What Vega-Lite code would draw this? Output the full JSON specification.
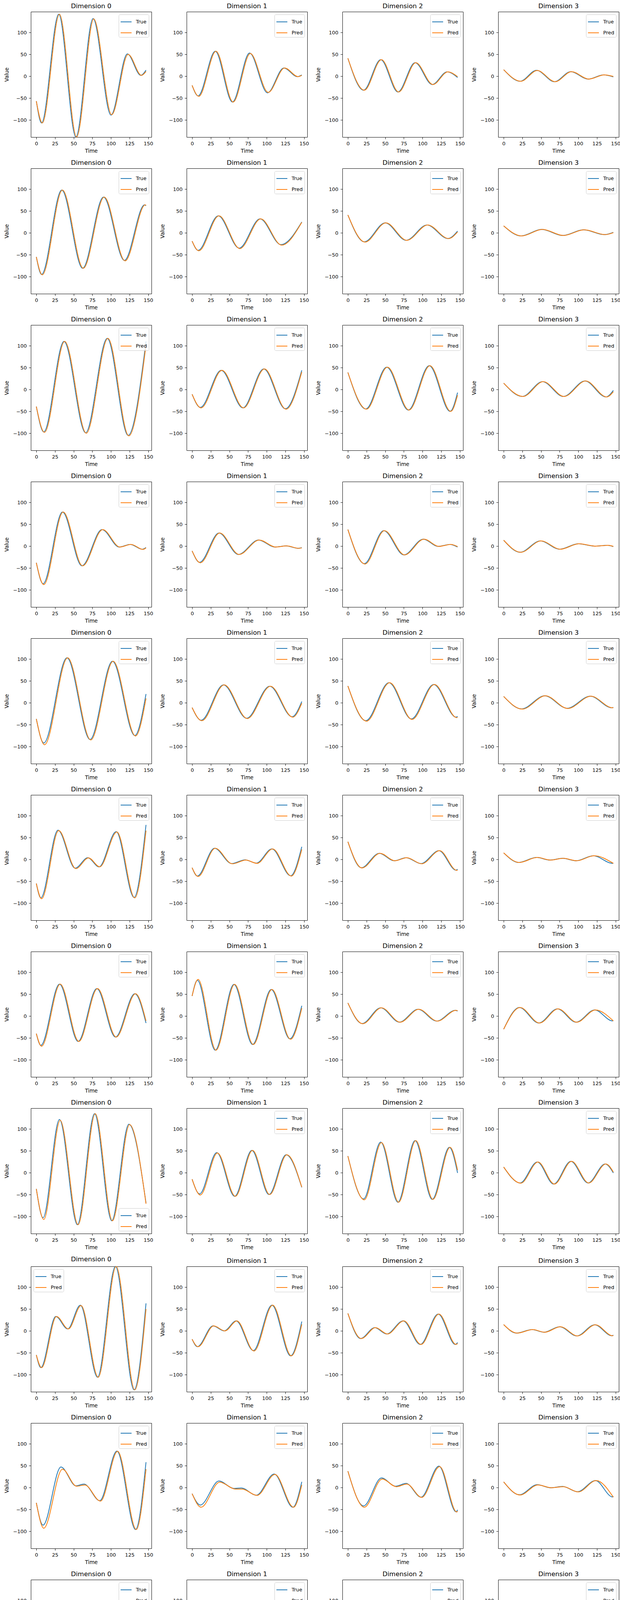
{
  "$schema": "https://vega.github.io/schema/vega-lite/v6.json",
  "background": "white",
  "padding": {"left": 9, "top": 7, "right": 0, "bottom": 0},
  "data": {"values": [
    {"p":0,"t":0,"True":-57,"Pred":-57},{"p":0,"t":7,"True":-107},{"p":0,"t":30,"True":142},{"p":0,"t":53,"True":-139},{"p":0,"t":76,"True":132},{"p":0,"t":100,"True":-89},{"p":0,"t":122,"True":51},{"p":0,"t":140,"True":2},{"p":0,"t":8,"Pred":-107},{"p":0,"t":31,"Pred":142},{"p":0,"t":54,"Pred":-139},{"p":0,"t":77,"Pred":131},{"p":0,"t":101,"Pred":-88},{"p":0,"t":123,"Pred":50},{"p":0,"t":141,"Pred":2},{"p":0,"t":147,"True":14,"Pred":11},
    {"p":1,"t":0,"True":-21,"Pred":-21},{"p":1,"t":8,"True":-45},{"p":1,"t":31,"True":57},{"p":1,"t":54,"True":-59},{"p":1,"t":77,"True":53},{"p":1,"t":101,"True":-38},{"p":1,"t":123,"True":19},{"p":1,"t":141,"True":-1},{"p":1,"t":9,"Pred":-46},{"p":1,"t":32,"Pred":57},{"p":1,"t":55,"Pred":-59},{"p":1,"t":78,"Pred":52},{"p":1,"t":102,"Pred":-37},{"p":1,"t":124,"Pred":19},{"p":1,"t":142,"Pred":-1},{"p":1,"t":147,"True":3,"Pred":2},
    {"p":2,"t":0,"True":41,"Pred":41},{"p":2,"t":21,"True":-32},{"p":2,"t":44,"True":38},{"p":2,"t":67,"True":-36},{"p":2,"t":90,"True":31},{"p":2,"t":113,"True":-19},{"p":2,"t":133,"True":10},{"p":2,"t":22,"Pred":-32},{"p":2,"t":45,"Pred":38},{"p":2,"t":68,"Pred":-36},{"p":2,"t":91,"Pred":31},{"p":2,"t":114,"Pred":-19},{"p":2,"t":134,"Pred":10},{"p":2,"t":147,"True":-3,"Pred":-1},
    {"p":3,"t":0,"True":15,"Pred":15},{"p":3,"t":22,"True":-11.5},{"p":3,"t":44,"True":13.5},{"p":3,"t":68,"True":-12.5},{"p":3,"t":90,"True":10.5},{"p":3,"t":113,"True":-6.5},{"p":3,"t":134,"True":3},{"p":3,"t":23,"Pred":-11.5},{"p":3,"t":45,"Pred":13},{"p":3,"t":69,"Pred":-12.5},{"p":3,"t":91,"Pred":10.5},{"p":3,"t":114,"Pred":-6.5},{"p":3,"t":135,"Pred":3},{"p":3,"t":147,"True":-1.5,"Pred":-0.5},
    {"p":4,"t":0,"True":-55,"Pred":-55},{"p":4,"t":7,"True":-95},{"p":4,"t":34,"True":98},{"p":4,"t":62,"True":-81},{"p":4,"t":90,"True":82},{"p":4,"t":118,"True":-63},{"p":4,"t":145,"True":64},{"p":4,"t":8,"Pred":-96},{"p":4,"t":35,"Pred":98},{"p":4,"t":63,"Pred":-81},{"p":4,"t":91,"Pred":82},{"p":4,"t":119,"Pred":-64},{"p":4,"t":146,"Pred":64},{"p":4,"t":147,"True":62,"Pred":63},
    {"p":5,"t":0,"True":-19,"Pred":-19},{"p":5,"t":8,"True":-40},{"p":5,"t":35,"True":39},{"p":5,"t":63,"True":-35},{"p":5,"t":91,"True":32},{"p":5,"t":119,"True":-27},{"p":5,"t":9,"Pred":-41},{"p":5,"t":36,"Pred":39},{"p":5,"t":64,"Pred":-36},{"p":5,"t":92,"Pred":32},{"p":5,"t":120,"Pred":-28},{"p":5,"t":147,"True":25,"Pred":24},
    {"p":6,"t":0,"True":41,"Pred":41},{"p":6,"t":22,"True":-20.5},{"p":6,"t":50,"True":23},{"p":6,"t":78,"True":-17},{"p":6,"t":106,"True":18},{"p":6,"t":134,"True":-13},{"p":6,"t":23,"Pred":-21},{"p":6,"t":51,"Pred":23},{"p":6,"t":79,"Pred":-17},{"p":6,"t":107,"Pred":18},{"p":6,"t":135,"Pred":-13},{"p":6,"t":147,"True":4,"Pred":2},
    {"p":7,"t":0,"True":16,"Pred":16},{"p":7,"t":23,"True":-7},{"p":7,"t":51,"True":8},{"p":7,"t":79,"True":-6},{"p":7,"t":107,"True":7},{"p":7,"t":135,"True":-4},{"p":7,"t":24,"Pred":-7},{"p":7,"t":52,"Pred":8},{"p":7,"t":80,"Pred":-6},{"p":7,"t":108,"Pred":7},{"p":7,"t":136,"Pred":-4},{"p":7,"t":147,"True":1,"Pred":0.5},
    {"p":8,"t":0,"True":-39,"Pred":-39},{"p":8,"t":10,"True":-97},{"p":8,"t":37,"True":110},{"p":8,"t":66,"True":-99},{"p":8,"t":95,"True":117},{"p":8,"t":123,"True":-105},{"p":8,"t":11,"Pred":-98},{"p":8,"t":38,"Pred":110},{"p":8,"t":67,"Pred":-100},{"p":8,"t":96,"Pred":117},{"p":8,"t":124,"Pred":-106},{"p":8,"t":147,"True":110,"Pred":102},
    {"p":9,"t":0,"True":-11,"Pred":-11},{"p":9,"t":11,"True":-41},{"p":9,"t":39,"True":44},{"p":9,"t":68,"True":-42},{"p":9,"t":96,"True":47},{"p":9,"t":125,"True":-44},{"p":9,"t":12,"Pred":-42},{"p":9,"t":40,"Pred":44},{"p":9,"t":69,"Pred":-42},{"p":9,"t":97,"Pred":47},{"p":9,"t":126,"Pred":-45},{"p":9,"t":147,"True":44,"Pred":40},
    {"p":10,"t":0,"True":39,"Pred":39},{"p":10,"t":24,"True":-44.5},{"p":10,"t":52,"True":51},{"p":10,"t":81,"True":-47},{"p":10,"t":109,"True":54.5},{"p":10,"t":137,"True":-50},{"p":10,"t":25,"Pred":-45},{"p":10,"t":53,"Pred":51},{"p":10,"t":82,"Pred":-47},{"p":10,"t":110,"Pred":54.5},{"p":10,"t":138,"Pred":-50},{"p":10,"t":147,"True":-7,"Pred":-13},
    {"p":11,"t":0,"True":14.5,"Pred":14.5},{"p":11,"t":25,"True":-16},{"p":11,"t":52,"True":18},{"p":11,"t":80,"True":-16},{"p":11,"t":109,"True":19.5},{"p":11,"t":137,"True":-17},{"p":11,"t":26,"Pred":-16},{"p":11,"t":53,"Pred":18},{"p":11,"t":81,"Pred":-16},{"p":11,"t":110,"Pred":19.5},{"p":11,"t":138,"Pred":-17},{"p":11,"t":147,"True":-2,"Pred":-5},
    {"p":12,"t":0,"True":-38,"Pred":-38},{"p":12,"t":9,"True":-86},{"p":12,"t":35,"True":78},{"p":12,"t":61,"True":-45},{"p":12,"t":88,"True":38},{"p":12,"t":111,"True":-2},{"p":12,"t":126,"True":4},{"p":12,"t":142,"True":-7},{"p":12,"t":10,"Pred":-88},{"p":12,"t":36,"Pred":78},{"p":12,"t":62,"Pred":-45},{"p":12,"t":89,"Pred":38},{"p":12,"t":112,"Pred":-2},{"p":12,"t":127,"Pred":4},{"p":12,"t":143,"Pred":-7.5},{"p":12,"t":147,"True":-3,"Pred":-4},
    {"p":13,"t":0,"True":-11,"Pred":-11},{"p":13,"t":10,"True":-37},{"p":13,"t":36,"True":30},{"p":13,"t":62,"True":-19},{"p":13,"t":89,"True":14},{"p":13,"t":111,"True":-2},{"p":13,"t":126,"True":0.5},{"p":13,"t":142,"True":-5},{"p":13,"t":11,"Pred":-38},{"p":13,"t":37,"Pred":30},{"p":13,"t":63,"Pred":-19},{"p":13,"t":90,"Pred":14},{"p":13,"t":112,"Pred":-2},{"p":13,"t":127,"Pred":0.5},{"p":13,"t":143,"Pred":-5},{"p":13,"t":147,"True":-3.5,"Pred":-4},
    {"p":14,"t":0,"True":38,"Pred":38},{"p":14,"t":22,"True":-40},{"p":14,"t":48,"True":35.5},{"p":14,"t":75,"True":-20},{"p":14,"t":101,"True":16},{"p":14,"t":121,"True":-0.5},{"p":14,"t":137,"True":4},{"p":14,"t":23,"Pred":-41},{"p":14,"t":49,"Pred":35.5},{"p":14,"t":76,"Pred":-20},{"p":14,"t":102,"Pred":16},{"p":14,"t":122,"Pred":-0.5},{"p":14,"t":138,"Pred":4},{"p":14,"t":147,"True":-2,"Pred":-1},
    {"p":15,"t":0,"True":13.5,"Pred":13.5},{"p":15,"t":22,"True":-14},{"p":15,"t":49,"True":12},{"p":15,"t":75,"True":-7},{"p":15,"t":100,"True":5.5},{"p":15,"t":122,"True":0},{"p":15,"t":139,"True":2},{"p":15,"t":23,"Pred":-14},{"p":15,"t":50,"Pred":12},{"p":15,"t":76,"Pred":-7},{"p":15,"t":101,"Pred":5.5},{"p":15,"t":123,"Pred":0},{"p":15,"t":140,"Pred":2},{"p":15,"t":147,"True":-1,"Pred":-0.5},
    {"p":16,"t":0,"True":-37,"Pred":-37},{"p":16,"t":10,"True":-92},{"p":16,"t":41,"True":103},{"p":16,"t":72,"True":-84},{"p":16,"t":102,"True":95},{"p":16,"t":132,"True":-75},{"p":16,"t":11,"Pred":-96},{"p":16,"t":42,"Pred":103},{"p":16,"t":73,"Pred":-85},{"p":16,"t":103,"Pred":95},{"p":16,"t":133,"Pred":-76},{"p":16,"t":147,"True":20,"Pred":10},
    {"p":17,"t":0,"True":-11,"Pred":-11},{"p":17,"t":12,"True":-40},{"p":17,"t":42,"True":41},{"p":17,"t":73,"True":-35.5},{"p":17,"t":104,"True":38},{"p":17,"t":134,"True":-32},{"p":17,"t":13,"Pred":-41},{"p":17,"t":43,"Pred":41},{"p":17,"t":74,"Pred":-36},{"p":17,"t":105,"Pred":38},{"p":17,"t":135,"Pred":-33},{"p":17,"t":147,"True":3,"Pred":-1},
    {"p":18,"t":0,"True":38.5,"Pred":38.5},{"p":18,"t":24,"True":-41},{"p":18,"t":55,"True":46},{"p":18,"t":85,"True":-37},{"p":18,"t":115,"True":42},{"p":18,"t":145,"True":-33},{"p":18,"t":25,"Pred":-42},{"p":18,"t":56,"Pred":46},{"p":18,"t":86,"Pred":-38},{"p":18,"t":116,"Pred":42},{"p":18,"t":146,"Pred":-34},{"p":18,"t":147,"True":-31,"Pred":-33},
    {"p":19,"t":0,"True":14.5,"Pred":14.5},{"p":19,"t":24,"True":-14},{"p":19,"t":55,"True":16},{"p":19,"t":85,"True":-12.5},{"p":19,"t":116,"True":15},{"p":19,"t":145,"True":-11.5},{"p":19,"t":25,"Pred":-14.5},{"p":19,"t":56,"Pred":16},{"p":19,"t":86,"Pred":-13},{"p":19,"t":117,"Pred":15},{"p":19,"t":146,"Pred":-11.5},{"p":19,"t":147,"True":-10.5,"Pred":-11},
    {"p":20,"t":0,"True":-55,"Pred":-55},{"p":20,"t":6,"True":-88},{"p":20,"t":29,"True":67},{"p":20,"t":52,"True":-20},{"p":20,"t":69,"True":4},{"p":20,"t":84,"True":-17},{"p":20,"t":107,"True":63.5},{"p":20,"t":131,"True":-87},{"p":20,"t":7,"Pred":-90},{"p":20,"t":30,"Pred":66},{"p":20,"t":53,"Pred":-21},{"p":20,"t":70,"Pred":3.5},{"p":20,"t":85,"Pred":-17},{"p":20,"t":108,"Pred":63},{"p":20,"t":132,"Pred":-88},{"p":20,"t":147,"True":79,"Pred":66},
    {"p":21,"t":0,"True":-19,"Pred":-19},{"p":21,"t":7,"True":-38},{"p":21,"t":30,"True":25.5},{"p":21,"t":53,"True":-9.5},{"p":21,"t":71,"True":-1},{"p":21,"t":86,"True":-8.5},{"p":21,"t":107,"True":24},{"p":21,"t":132,"True":-37.5},{"p":21,"t":8,"Pred":-39},{"p":21,"t":31,"Pred":25.5},{"p":21,"t":54,"Pred":-10},{"p":21,"t":72,"Pred":-1.5},{"p":21,"t":87,"Pred":-9},{"p":21,"t":108,"Pred":24},{"p":21,"t":133,"Pred":-38},{"p":21,"t":147,"True":29,"Pred":23},
    {"p":22,"t":0,"True":40.5,"Pred":40.5},{"p":22,"t":18,"True":-19},{"p":22,"t":42,"True":14},{"p":22,"t":62,"True":-3},{"p":22,"t":78,"True":4},{"p":22,"t":98,"True":-9.5},{"p":22,"t":122,"True":20},{"p":22,"t":145,"True":-24.5},{"p":22,"t":19,"Pred":-19.5},{"p":22,"t":43,"Pred":14},{"p":22,"t":63,"Pred":-3},{"p":22,"t":79,"Pred":4},{"p":22,"t":99,"Pred":-10},{"p":22,"t":123,"Pred":20},{"p":22,"t":146,"Pred":-25},{"p":22,"t":147,"True":-22.5,"Pred":-25},
    {"p":23,"t":0,"True":15,"Pred":15},{"p":23,"t":20,"True":-7},{"p":23,"t":44,"True":4.5},{"p":23,"t":62,"True":-1.5},{"p":23,"t":79,"True":2.5},{"p":23,"t":97,"True":-3},{"p":23,"t":120,"True":8.5},{"p":23,"t":146,"True":-9},{"p":23,"t":21,"Pred":-7},{"p":23,"t":45,"Pred":4.5},{"p":23,"t":63,"Pred":-1.5},{"p":23,"t":80,"Pred":2.5},{"p":23,"t":98,"Pred":-3},{"p":23,"t":121,"Pred":8.5},{"p":23,"t":147,"True":-8.5,"Pred":-9},
    {"p":24,"t":0,"True":-40,"Pred":-40},{"p":24,"t":6,"True":-67},{"p":24,"t":31,"True":73},{"p":24,"t":56,"True":-58},{"p":24,"t":81,"True":63},{"p":24,"t":106,"True":-48},{"p":24,"t":132,"True":51},{"p":24,"t":7,"Pred":-69},{"p":24,"t":32,"Pred":73},{"p":24,"t":57,"Pred":-58},{"p":24,"t":82,"Pred":63},{"p":24,"t":107,"Pred":-48},{"p":24,"t":133,"Pred":51},{"p":24,"t":147,"True":-16,"Pred":-11},
    {"p":25,"t":0,"True":46,"Pred":46},{"p":25,"t":7,"True":82},{"p":25,"t":31,"True":-78},{"p":25,"t":56,"True":72.5},{"p":25,"t":81,"True":-65},{"p":25,"t":106,"True":61},{"p":25,"t":131,"True":-52},{"p":25,"t":8,"Pred":84},{"p":25,"t":32,"Pred":-78},{"p":25,"t":57,"Pred":72.5},{"p":25,"t":82,"Pred":-65},{"p":25,"t":107,"Pred":61},{"p":25,"t":132,"Pred":-53},{"p":25,"t":147,"True":23.5,"Pred":18},
    {"p":26,"t":0,"True":30,"Pred":30},{"p":26,"t":19,"True":-17},{"p":26,"t":44,"True":19},{"p":26,"t":69,"True":-14},{"p":26,"t":94,"True":15.5},{"p":26,"t":119,"True":-11.5},{"p":26,"t":144,"True":13},{"p":26,"t":20,"Pred":-17.5},{"p":26,"t":45,"Pred":19},{"p":26,"t":70,"Pred":-14},{"p":26,"t":95,"Pred":15.5},{"p":26,"t":120,"Pred":-11.5},{"p":26,"t":145,"Pred":13},{"p":26,"t":147,"True":11.5,"Pred":12.5},
    {"p":27,"t":0,"True":-30,"Pred":-30},{"p":27,"t":21,"True":19.5},{"p":27,"t":47,"True":-16},{"p":27,"t":72,"True":16.5},{"p":27,"t":97,"True":-14},{"p":27,"t":122,"True":14},{"p":27,"t":146,"True":-11},{"p":27,"t":22,"Pred":19.5},{"p":27,"t":48,"Pred":-16},{"p":27,"t":73,"Pred":16.5},{"p":27,"t":98,"Pred":-14},{"p":27,"t":123,"Pred":14},{"p":27,"t":147,"True":-10.5,"Pred":-11},
    {"p":28,"t":0,"True":-37,"Pred":-37},{"p":28,"t":9,"True":-103},{"p":28,"t":31,"True":122},{"p":28,"t":55,"True":-119},{"p":28,"t":78,"True":135},{"p":28,"t":101,"True":-110},{"p":28,"t":124,"True":111},{"p":28,"t":10,"Pred":-107},{"p":28,"t":32,"Pred":120},{"p":28,"t":56,"Pred":-119},{"p":28,"t":79,"Pred":135},{"p":28,"t":102,"Pred":-110},{"p":28,"t":125,"Pred":110},{"p":28,"t":147,"True":-69,"Pred":-71},
    {"p":29,"t":0,"True":-15,"Pred":-15},{"p":29,"t":10,"True":-48.5},{"p":29,"t":33,"True":46},{"p":29,"t":57,"True":-54},{"p":29,"t":80,"True":51},{"p":29,"t":103,"True":-50},{"p":29,"t":126,"True":41},{"p":29,"t":11,"Pred":-51},{"p":29,"t":34,"Pred":45},{"p":29,"t":58,"Pred":-54},{"p":29,"t":81,"Pred":51},{"p":29,"t":104,"Pred":-50},{"p":29,"t":127,"Pred":41},{"p":29,"t":147,"True":-33.5,"Pred":-33},
    {"p":30,"t":0,"True":38,"Pred":38},{"p":30,"t":21,"True":-60},{"p":30,"t":44,"True":70},{"p":30,"t":67,"True":-67.5},{"p":30,"t":90,"True":73.5},{"p":30,"t":113,"True":-61},{"p":30,"t":136,"True":58},{"p":30,"t":22,"Pred":-62},{"p":30,"t":45,"Pred":69},{"p":30,"t":68,"Pred":-67.5},{"p":30,"t":91,"Pred":73.5},{"p":30,"t":114,"Pred":-61},{"p":30,"t":137,"Pred":58},{"p":30,"t":147,"True":-0.5,"Pred":6},
    {"p":31,"t":0,"True":13,"Pred":13},{"p":31,"t":22,"True":-23.5},{"p":31,"t":45,"True":24.5},{"p":31,"t":67,"True":-26},{"p":31,"t":90,"True":26},{"p":31,"t":113,"True":-23.5},{"p":31,"t":136,"True":20},{"p":31,"t":23,"Pred":-24},{"p":31,"t":46,"Pred":24.5},{"p":31,"t":68,"Pred":-26},{"p":31,"t":91,"Pred":26},{"p":31,"t":114,"Pred":-23.5},{"p":31,"t":137,"Pred":20},{"p":31,"t":147,"True":-0.5,"Pred":1.5},
    {"p":32,"t":0,"True":-55,"Pred":-55},{"p":32,"t":6,"True":-84},{"p":32,"t":26,"True":33},{"p":32,"t":42,"True":4.5},{"p":32,"t":59,"True":59},{"p":32,"t":82,"True":-106},{"p":32,"t":106,"True":147.6},{"p":32,"t":131,"True":-135},{"p":32,"t":7,"Pred":-84},{"p":32,"t":27,"Pred":33},{"p":32,"t":43,"Pred":4.5},{"p":32,"t":60,"Pred":58},{"p":32,"t":83,"Pred":-106},{"p":32,"t":107,"Pred":147.6},{"p":32,"t":132,"Pred":-135},{"p":32,"t":147,"True":63,"Pred":50},
    {"p":33,"t":0,"True":-19,"Pred":-19},{"p":33,"t":7,"True":-36},{"p":33,"t":28,"True":11.5},{"p":33,"t":43,"True":0},{"p":33,"t":59,"True":23},{"p":33,"t":82,"True":-45},{"p":33,"t":107,"True":59},{"p":33,"t":132,"True":-57},{"p":33,"t":8,"Pred":-36},{"p":33,"t":29,"Pred":11.5},{"p":33,"t":44,"Pred":0},{"p":33,"t":60,"Pred":23},{"p":33,"t":83,"Pred":-46},{"p":33,"t":108,"Pred":59},{"p":33,"t":133,"Pred":-57},{"p":33,"t":147,"True":21.5,"Pred":15},
    {"p":34,"t":0,"True":40,"Pred":40},{"p":34,"t":17,"True":-17.5},{"p":34,"t":36,"True":7.5},{"p":34,"t":52,"True":-7},{"p":34,"t":74,"True":23},{"p":34,"t":97,"True":-31},{"p":34,"t":121,"True":38.5},{"p":34,"t":144,"True":-31},{"p":34,"t":18,"Pred":-17.5},{"p":34,"t":37,"Pred":7.5},{"p":34,"t":53,"Pred":-7},{"p":34,"t":75,"Pred":23},{"p":34,"t":98,"Pred":-31},{"p":34,"t":122,"Pred":38.5},{"p":34,"t":145,"Pred":-31},{"p":34,"t":147,"True":-26.5,"Pred":-29},
    {"p":35,"t":0,"True":14.5,"Pred":14.5},{"p":35,"t":17,"True":-5},{"p":35,"t":38,"True":3},{"p":35,"t":54,"True":-3},{"p":35,"t":75,"True":9.5},{"p":35,"t":98,"True":-11.5},{"p":35,"t":122,"True":14},{"p":35,"t":145,"True":-11},{"p":35,"t":18,"Pred":-5},{"p":35,"t":39,"Pred":3},{"p":35,"t":55,"Pred":-3},{"p":35,"t":76,"Pred":9.5},{"p":35,"t":99,"Pred":-11.5},{"p":35,"t":123,"Pred":14},{"p":35,"t":146,"Pred":-11},{"p":35,"t":147,"True":-9.5,"Pred":-10.5},
    {"p":36,"t":0,"True":-35,"Pred":-35},{"p":36,"t":9,"True":-86},{"p":36,"t":33,"True":47},{"p":36,"t":53,"True":4},{"p":36,"t":64,"True":8},{"p":36,"t":85,"True":-30},{"p":36,"t":108,"True":83.5},{"p":36,"t":133,"True":-96},{"p":36,"t":10,"Pred":-93},{"p":36,"t":35,"Pred":42},{"p":36,"t":54,"Pred":3},{"p":36,"t":65,"Pred":6},{"p":36,"t":86,"Pred":-31},{"p":36,"t":109,"Pred":83},{"p":36,"t":134,"Pred":-96},{"p":36,"t":147,"True":58,"Pred":42},
    {"p":37,"t":0,"True":-14,"Pred":-14},{"p":37,"t":11,"True":-40},{"p":37,"t":36,"True":15},{"p":37,"t":56,"True":-2},{"p":37,"t":66,"True":-1},{"p":37,"t":86,"True":-17.5},{"p":37,"t":110,"True":31},{"p":37,"t":135,"True":-45},{"p":37,"t":12,"Pred":-45},{"p":37,"t":37,"Pred":12.5},{"p":37,"t":58,"Pred":-3.5},{"p":37,"t":67,"Pred":-3.5},{"p":37,"t":87,"Pred":-18},{"p":37,"t":111,"Pred":30},{"p":37,"t":136,"Pred":-45},{"p":37,"t":147,"True":13,"Pred":6},
    {"p":38,"t":0,"True":37.5,"Pred":37.5},{"p":38,"t":21,"True":-42},{"p":38,"t":45,"True":22},{"p":38,"t":64,"True":3},{"p":38,"t":78,"True":9.5},{"p":38,"t":98,"True":-22},{"p":38,"t":122,"True":49},{"p":38,"t":145,"True":-55.5},{"p":38,"t":22,"Pred":-45},{"p":38,"t":46,"Pred":19.5},{"p":38,"t":65,"Pred":2},{"p":38,"t":79,"Pred":8},{"p":38,"t":99,"Pred":-22.5},{"p":38,"t":123,"Pred":48},{"p":38,"t":146,"Pred":-56},{"p":38,"t":147,"True":-51,"Pred":-54},
    {"p":39,"t":0,"True":13,"Pred":13},{"p":39,"t":21,"True":-16.5},{"p":39,"t":45,"True":6.5},{"p":39,"t":63,"True":-0.5},{"p":39,"t":79,"True":2.5},{"p":39,"t":99,"True":-9.5},{"p":39,"t":123,"True":16},{"p":39,"t":146,"True":-21.5},{"p":39,"t":22,"Pred":-17},{"p":39,"t":46,"Pred":6},{"p":39,"t":64,"Pred":-0.5},{"p":39,"t":80,"Pred":2},{"p":39,"t":100,"Pred":-10},{"p":39,"t":124,"Pred":16},{"p":39,"t":147,"True":-20,"Pred":-22},
    {"p":40,"t":0,"True":-40,"Pred":-40},{"p":40,"t":8,"True":-70},{"p":40,"t":37,"True":77},{"p":40,"t":67,"True":-64},{"p":40,"t":98,"True":71},{"p":40,"t":128,"True":-58},{"p":40,"t":9,"Pred":-71},{"p":40,"t":38,"Pred":77},{"p":40,"t":68,"Pred":-65},{"p":40,"t":99,"Pred":71},{"p":40,"t":129,"Pred":-59},{"p":40,"t":147,"True":34,"Pred":29},
    {"p":41,"t":0,"True":46,"Pred":46},{"p":41,"t":8,"True":86},{"p":41,"t":38,"True":-82},{"p":41,"t":68,"True":79.5},{"p":41,"t":98,"True":-75},{"p":41,"t":128,"True":72.5},{"p":41,"t":9,"Pred":87},{"p":41,"t":39,"Pred":-83},{"p":41,"t":69,"Pred":79.5},{"p":41,"t":99,"Pred":-75},{"p":41,"t":129,"Pred":72},{"p":41,"t":147,"True":-32,"Pred":-25},
    {"p":42,"t":0,"True":29.5,"Pred":29.5},{"p":42,"t":22,"True":-14.5},{"p":42,"t":51,"True":17.5},{"p":42,"t":81,"True":-14},{"p":42,"t":111,"True":16},{"p":42,"t":141,"True":-12.5},{"p":42,"t":23,"Pred":-15},{"p":42,"t":52,"Pred":17.5},{"p":42,"t":82,"Pred":-14},{"p":42,"t":112,"Pred":16},{"p":42,"t":142,"Pred":-12.5},{"p":42,"t":147,"True":-9.5,"Pred":-10.5},
    {"p":43,"t":0,"True":-30,"Pred":-30},{"p":43,"t":25,"True":17.5},{"p":43,"t":55,"True":-14.5},{"p":43,"t":85,"True":16},{"p":43,"t":115,"True":-12.5},{"p":43,"t":145,"True":14},{"p":43,"t":26,"Pred":17.5},{"p":43,"t":56,"Pred":-14.5},{"p":43,"t":86,"Pred":16},{"p":43,"t":116,"Pred":-12.5},{"p":43,"t":146,"Pred":14},{"p":43,"t":147,"True":13.5,"Pred":14},
    {"p":44,"t":0,"True":-56,"Pred":-56},{"p":44,"t":7,"True":-101},{"p":44,"t":31,"True":122.5},{"p":44,"t":56,"True":-124},{"p":44,"t":81,"True":140},{"p":44,"t":106,"True":-137},{"p":44,"t":131,"True":147.6},{"p":44,"t":8,"Pred":-101},{"p":44,"t":32,"Pred":122},{"p":44,"t":57,"Pred":-124},{"p":44,"t":82,"Pred":139},{"p":44,"t":107,"Pred":-137},{"p":44,"t":132,"Pred":147.6},{"p":44,"t":147,"True":-68,"Pred":-52},
    {"p":45,"t":0,"True":-20,"Pred":-20},{"p":45,"t":8,"True":-43},{"p":45,"t":32,"True":49},{"p":45,"t":57,"True":-52},{"p":45,"t":82,"True":55.5},{"p":45,"t":107,"True":-58},{"p":45,"t":132,"True":59.5},{"p":45,"t":9,"Pred":-43},{"p":45,"t":33,"Pred":49},{"p":45,"t":58,"Pred":-52},{"p":45,"t":83,"Pred":55.5},{"p":45,"t":108,"Pred":-58},{"p":45,"t":133,"Pred":59.5},{"p":45,"t":147,"True":-25,"Pred":-18},
    {"p":46,"t":0,"True":41,"Pred":41},{"p":46,"t":21,"True":-26.5},{"p":46,"t":46,"True":32},{"p":46,"t":71,"True":-32},{"p":46,"t":96,"True":36},{"p":46,"t":121,"True":-35},{"p":46,"t":146,"True":37.5},{"p":46,"t":22,"Pred":-27},{"p":46,"t":47,"Pred":32},{"p":46,"t":72,"Pred":-32},{"p":46,"t":97,"Pred":36},{"p":46,"t":122,"Pred":-35},{"p":46,"t":147,"True":35,"Pred":37},
    {"p":47,"t":0,"True":15.5,"Pred":15.5},{"p":47,"t":23,"True":-9.5},{"p":47,"t":48,"True":11.5},{"p":47,"t":74,"True":-11.5},{"p":47,"t":99,"True":13.5},{"p":47,"t":124,"True":-12.5},{"p":47,"t":24,"Pred":-9.5},{"p":47,"t":49,"Pred":11.5},{"p":47,"t":75,"Pred":-11.5},{"p":47,"t":100,"Pred":13.5},{"p":47,"t":125,"Pred":-12.5},{"p":47,"t":147,"True":14,"Pred":13},
    {"p":48,"t":0,"True":-54.5,"Pred":-54.5},{"p":48,"t":7,"True":-99},{"p":48,"t":35,"True":115},{"p":48,"t":63,"True":-108},{"p":48,"t":92,"True":121},{"p":48,"t":121,"True":-114},{"p":48,"t":146,"True":127},{"p":48,"t":8,"Pred":-99},{"p":48,"t":36,"Pred":115},{"p":48,"t":64,"Pred":-108},{"p":48,"t":93,"Pred":121},{"p":48,"t":122,"Pred":-114},{"p":48,"t":147,"True":126,"Pred":126},
    {"p":49,"t":0,"True":-19,"Pred":-19},{"p":49,"t":9,"True":-42},{"p":49,"t":36,"True":46},{"p":49,"t":64,"True":-46},{"p":49,"t":92,"True":49.5},{"p":49,"t":121,"True":-49},{"p":49,"t":10,"Pred":-42},{"p":49,"t":37,"Pred":46},{"p":49,"t":65,"Pred":-46},{"p":49,"t":93,"Pred":49.5},{"p":49,"t":122,"Pred":-49},{"p":49,"t":147,"True":51,"Pred":50},
    {"p":50,"t":0,"True":41.5,"Pred":41.5},{"p":50,"t":22,"True":-23.5},{"p":50,"t":50,"True":27},{"p":50,"t":78,"True":-25},{"p":50,"t":107,"True":29},{"p":50,"t":135,"True":-26},{"p":50,"t":23,"Pred":-23.5},{"p":50,"t":51,"Pred":27},{"p":50,"t":79,"Pred":-25},{"p":50,"t":108,"Pred":29},{"p":50,"t":136,"Pred":-26},{"p":50,"t":147,"True":0,"Pred":-4},
    {"p":51,"t":0,"True":16,"Pred":16},{"p":51,"t":24,"True":-8.5},{"p":51,"t":52,"True":10},{"p":51,"t":80,"True":-8.5},{"p":51,"t":108,"True":11},{"p":51,"t":137,"True":-9},{"p":51,"t":25,"Pred":-8.5},{"p":51,"t":53,"Pred":10},{"p":51,"t":81,"Pred":-8.5},{"p":51,"t":109,"Pred":11},{"p":51,"t":138,"Pred":-9},{"p":51,"t":147,"True":-1.5,"Pred":-3},
    {"p":52,"t":0,"True":-31,"Pred":-31},{"p":52,"t":9,"True":-74},{"p":52,"t":37,"True":80.5},{"p":52,"t":65,"True":-60},{"p":52,"t":93,"True":68},{"p":52,"t":122,"True":-46},{"p":52,"t":10,"Pred":-77},{"p":52,"t":38,"Pred":80.5},{"p":52,"t":66,"Pred":-60},{"p":52,"t":94,"Pred":68},{"p":52,"t":123,"Pred":-47},{"p":52,"t":147,"True":53,"Pred":51},
    {"p":53,"t":0,"True":45,"Pred":45},{"p":53,"t":10,"True":107},{"p":53,"t":38,"True":-92},{"p":53,"t":66,"True":88.5},{"p":53,"t":94,"True":-76},{"p":53,"t":122,"True":71},{"p":53,"t":11,"Pred":110},{"p":53,"t":39,"Pred":-92},{"p":53,"t":67,"Pred":88.5},{"p":53,"t":95,"Pred":-77},{"p":53,"t":123,"Pred":71},{"p":53,"t":147,"True":-57,"Pred":-54},
    {"p":54,"t":0,"True":30,"Pred":30},{"p":54,"t":22,"True":-35},{"p":54,"t":50,"True":37},{"p":54,"t":78,"True":-28},{"p":54,"t":106,"True":31.5},{"p":54,"t":134,"True":-22},{"p":54,"t":23,"Pred":-36},{"p":54,"t":51,"Pred":37},{"p":54,"t":79,"Pred":-28.5},{"p":54,"t":107,"Pred":31.5},{"p":54,"t":135,"Pred":-22.5},{"p":54,"t":147,"True":7,"Pred":3},
    {"p":55,"t":0,"True":-33,"Pred":-33},{"p":55,"t":24,"True":43},{"p":55,"t":51,"True":-37},{"p":55,"t":79,"True":36.5},{"p":55,"t":107,"True":-30},{"p":55,"t":135,"True":28.5},{"p":55,"t":25,"Pred":44},{"p":55,"t":52,"Pred":-37.5},{"p":55,"t":80,"Pred":36.5},{"p":55,"t":108,"Pred":-30.5},{"p":55,"t":136,"Pred":28.5},{"p":55,"t":147,"True":2,"Pred":5},
    {"p":56,"t":0,"True":-38.5,"Pred":-38.5},{"p":56,"t":8,"True":-80},{"p":56,"t":31,"True":53},{"p":56,"t":53,"True":-2},{"p":56,"t":65,"True":6},{"p":56,"t":83,"True":-27},{"p":56,"t":107,"True":78.5},{"p":56,"t":132,"True":-93.5},{"p":56,"t":9,"Pred":-83},{"p":56,"t":32,"Pred":52},{"p":56,"t":54,"Pred":-2},{"p":56,"t":66,"Pred":5.5},{"p":56,"t":84,"Pred":-27.5},{"p":56,"t":108,"Pred":78},{"p":56,"t":133,"Pred":-94},{"p":56,"t":147,"True":73,"Pred":58},
    {"p":57,"t":0,"True":-12,"Pred":-12},{"p":57,"t":9,"True":-33},{"p":57,"t":34,"True":20},{"p":57,"t":57,"True":-0.5},{"p":57,"t":66,"True":1},{"p":57,"t":84,"True":-12.5},{"p":57,"t":108,"True":30},{"p":57,"t":133,"True":-39.5},{"p":57,"t":10,"Pred":-35},{"p":57,"t":35,"Pred":19.5},{"p":57,"t":58,"Pred":-1},{"p":57,"t":67,"Pred":0.5},{"p":57,"t":85,"Pred":-13},{"p":57,"t":109,"Pred":30},{"p":57,"t":134,"Pred":-39.5},{"p":57,"t":147,"True":22.5,"Pred":16},
    {"p":58,"t":0,"True":38.5,"Pred":38.5},{"p":58,"t":20,"True":-35},{"p":58,"t":44,"True":22.5},{"p":58,"t":63,"True":1},{"p":58,"t":77,"True":8},{"p":58,"t":98,"True":-19},{"p":58,"t":121,"True":42},{"p":58,"t":145,"True":-50},{"p":58,"t":21,"Pred":-37},{"p":58,"t":45,"Pred":22},{"p":58,"t":64,"Pred":0.5},{"p":58,"t":78,"Pred":7.5},{"p":58,"t":99,"Pred":-19.5},{"p":58,"t":122,"Pred":42},{"p":58,"t":146,"Pred":-50},{"p":58,"t":147,"True":-44,"Pred":-48},
    {"p":59,"t":0,"True":14,"Pred":14},{"p":59,"t":21,"True":-13},{"p":59,"t":45,"True":8.5},{"p":59,"t":62,"True":-0.5},{"p":59,"t":78,"True":2.5},{"p":59,"t":99,"True":-6.5},{"p":59,"t":122,"True":14.5},{"p":59,"t":145,"True":-17.5},{"p":59,"t":22,"Pred":-13},{"p":59,"t":46,"Pred":8.5},{"p":59,"t":63,"Pred":-0.5},{"p":59,"t":79,"Pred":2.5},{"p":59,"t":100,"Pred":-6.5},{"p":59,"t":123,"Pred":14.5},{"p":59,"t":146,"Pred":-17.5},{"p":59,"t":147,"True":-15,"Pred":-16.5},
    {"p":60,"t":0,"True":-24,"Pred":-24},{"p":60,"t":11,"True":-78},{"p":60,"t":41,"True":102},{"p":60,"t":70,"True":-93.5},{"p":60,"t":100,"True":115},{"p":60,"t":129,"True":-94.5},{"p":60,"t":12,"Pred":-82},{"p":60,"t":42,"Pred":101},{"p":60,"t":71,"Pred":-94},{"p":60,"t":101,"Pred":114},{"p":60,"t":130,"Pred":-95},{"p":60,"t":147,"True":60,"Pred":50},
    {"p":61,"t":0,"True":32.5,"Pred":32.5},{"p":61,"t":13,"True":100},{"p":61,"t":43,"True":-107},{"p":61,"t":72,"True":117},{"p":61,"t":101,"True":-121},{"p":61,"t":130,"True":118},{"p":61,"t":14,"Pred":104},{"p":61,"t":44,"Pred":-107},{"p":61,"t":73,"Pred":117},{"p":61,"t":102,"Pred":-121},{"p":61,"t":131,"Pred":118},{"p":61,"t":147,"True":-51,"Pred":-40},
    {"p":62,"t":0,"True":29,"Pred":29},{"p":62,"t":24,"True":-44},{"p":62,"t":55,"True":54.5},{"p":62,"t":84,"True":-51.5},{"p":62,"t":113,"True":61},{"p":62,"t":142,"True":-51.5},{"p":62,"t":25,"Pred":-46},{"p":62,"t":56,"Pred":54},{"p":62,"t":85,"Pred":-51.5},{"p":62,"t":114,"Pred":60.5},{"p":62,"t":143,"Pred":-51.5},{"p":62,"t":147,"True":-36,"Pred":-40},
    {"p":63,"t":0,"True":-26,"Pred":-26},{"p":63,"t":27,"True":48.5},{"p":63,"t":56,"True":-51},{"p":63,"t":85,"True":56.5},{"p":63,"t":114,"True":-57},{"p":63,"t":143,"True":55.5},{"p":63,"t":28,"Pred":49},{"p":63,"t":57,"Pred":-51},{"p":63,"t":86,"Pred":56},{"p":63,"t":115,"Pred":-57},{"p":63,"t":144,"Pred":55},{"p":63,"t":147,"True":44,"Pred":48},
    {"p":64,"t":0,"True":-25,"Pred":-25},{"p":64,"t":9,"True":-61},{"p":64,"t":32,"True":51.5},{"p":64,"t":56,"True":-24},{"p":64,"t":79,"True":24},{"p":64,"t":97,"True":8.5},{"p":64,"t":109,"True":11},{"p":64,"t":128,"True":-10},{"p":64,"t":10,"Pred":-65},{"p":64,"t":33,"Pred":51},{"p":64,"t":57,"Pred":-24.5},{"p":64,"t":80,"Pred":24},{"p":64,"t":98,"Pred":8.5},{"p":64,"t":110,"Pred":11},{"p":64,"t":129,"Pred":-10.5},{"p":64,"t":147,"True":39,"Pred":37},
    {"p":65,"t":0,"True":32.5,"Pred":32.5},{"p":65,"t":9,"True":78.5},{"p":65,"t":33,"True":-49},{"p":65,"t":58,"True":36.5},{"p":65,"t":80,"True":-18},{"p":65,"t":98,"True":-1},{"p":65,"t":111,"True":-3.5},{"p":65,"t":129,"True":19.5},{"p":65,"t":10,"Pred":82},{"p":65,"t":34,"Pred":-49},{"p":65,"t":59,"Pred":36.5},{"p":65,"t":81,"Pred":-18},{"p":65,"t":99,"Pred":-1.5},{"p":65,"t":112,"Pred":-3.5},{"p":65,"t":130,"Pred":19.5},{"p":65,"t":147,"True":-34,"Pred":-31},
    {"p":66,"t":0,"True":28,"Pred":28},{"p":66,"t":20,"True":-34},{"p":66,"t":44,"True":27.5},{"p":66,"t":67,"True":-13},{"p":66,"t":91,"True":11.5},{"p":66,"t":108,"True":5},{"p":66,"t":120,"True":7},{"p":66,"t":141,"True":-8.5},{"p":66,"t":21,"Pred":-35.5},{"p":66,"t":45,"Pred":27.5},{"p":66,"t":68,"Pred":-13.5},{"p":66,"t":92,"Pred":11.5},{"p":66,"t":109,"Pred":5},{"p":66,"t":121,"Pred":7},{"p":66,"t":142,"Pred":-8.5},{"p":66,"t":147,"True":-1,"Pred":-3},
    {"p":67,"t":0,"True":-27,"Pred":-27},{"p":67,"t":21,"True":37},{"p":67,"t":45,"True":-23},{"p":67,"t":69,"True":17.5},{"p":67,"t":89,"True":-7},{"p":67,"t":105,"True":0},{"p":67,"t":122,"True":-3},{"p":67,"t":142,"True":13},{"p":67,"t":22,"Pred":39},{"p":67,"t":46,"Pred":-23.5},{"p":67,"t":70,"Pred":17.5},{"p":67,"t":90,"Pred":-7},{"p":67,"t":106,"Pred":0},{"p":67,"t":123,"Pred":-3},{"p":67,"t":143,"Pred":13},{"p":67,"t":147,"True":7,"Pred":8.5},
    {"p":68,"t":0,"True":-32,"Pred":-32},{"p":68,"t":8,"True":-65},{"p":68,"t":31,"True":41},{"p":68,"t":51,"True":5},{"p":68,"t":63,"True":11},{"p":68,"t":83,"True":-30},{"p":68,"t":106,"True":77},{"p":68,"t":131,"True":-86},{"p":68,"t":9,"Pred":-67},{"p":68,"t":32,"Pred":41},{"p":68,"t":52,"Pred":4.5},{"p":68,"t":64,"Pred":10.5},{"p":68,"t":84,"Pred":-30.5},{"p":68,"t":107,"Pred":76.5},{"p":68,"t":132,"Pred":-86},{"p":68,"t":147,"True":81,"Pred":69},
    {"p":69,"t":0,"True":46,"Pred":46},{"p":69,"t":8,"True":91},{"p":69,"t":32,"True":-42},{"p":69,"t":51,"True":3},{"p":69,"t":62,"True":-3.5},{"p":69,"t":83,"True":50},{"p":69,"t":107,"True":-87},{"p":69,"t":131,"True":121},{"p":69,"t":9,"Pred":95},{"p":69,"t":33,"Pred":-42},{"p":69,"t":52,"Pred":3},{"p":69,"t":63,"Pred":-3},{"p":69,"t":84,"Pred":50},{"p":69,"t":108,"Pred":-87},{"p":69,"t":132,"Pred":121},{"p":69,"t":147,"True":-84,"Pred":-70},
    {"p":70,"t":0,"True":29.5,"Pred":29.5},{"p":70,"t":19,"True":-29.5},{"p":70,"t":42,"True":16.5},{"p":70,"t":61,"True":2},{"p":70,"t":75,"True":8},{"p":70,"t":96,"True":-19},{"p":70,"t":119,"True":40},{"p":70,"t":143,"True":-45},{"p":70,"t":20,"Pred":-30},{"p":70,"t":43,"Pred":16.5},{"p":70,"t":62,"Pred":1.5},{"p":70,"t":76,"Pred":8},{"p":70,"t":97,"Pred":-19.5},{"p":70,"t":120,"Pred":40},{"p":70,"t":144,"Pred":-45.5},{"p":70,"t":147,"True":-31,"Pred":-35},
    {"p":71,"t":0,"True":-33,"Pred":-33},{"p":71,"t":20,"True":37},{"p":71,"t":43,"True":-14.5},{"p":71,"t":62,"True":2.5},{"p":71,"t":76,"True":-7},{"p":71,"t":97,"True":27.5},{"p":71,"t":121,"True":-41},{"p":71,"t":144,"True":56},{"p":71,"t":21,"Pred":37},{"p":71,"t":44,"Pred":-14.5},{"p":71,"t":63,"Pred":2.5},{"p":71,"t":77,"Pred":-7},{"p":71,"t":98,"Pred":27.5},{"p":71,"t":122,"Pred":-41.5},{"p":71,"t":145,"Pred":55.5},{"p":71,"t":147,"True":44.5,"Pred":48},
    {"p":72,"t":0,"True":-35,"Pred":-35},{"p":72,"t":11,"True":-100},{"p":72,"t":41,"True":91},{"p":72,"t":71,"True":-64},{"p":72,"t":101,"True":67},{"p":72,"t":130,"True":-32},{"p":72,"t":13,"Pred":-107},{"p":72,"t":42,"Pred":90},{"p":72,"t":72,"Pred":-65},{"p":72,"t":102,"Pred":66},{"p":72,"t":131,"Pred":-33},{"p":72,"t":147,"True":17,"Pred":13},
    {"p":73,"t":0,"True":-15,"Pred":-15},{"p":73,"t":12,"True":-48},{"p":73,"t":43,"True":35},{"p":73,"t":73,"True":-32},{"p":73,"t":103,"True":24},{"p":73,"t":133,"True":-18.5},{"p":73,"t":13,"Pred":-51},{"p":73,"t":44,"Pred":35},{"p":73,"t":74,"Pred":-32.5},{"p":73,"t":104,"Pred":24},{"p":73,"t":134,"Pred":-18.5},{"p":73,"t":147,"True":1,"Pred":-1},
    {"p":74,"t":0,"True":37.5,"Pred":37.5},{"p":74,"t":24,"True":-49},{"p":74,"t":55,"True":45},{"p":74,"t":85,"True":-32},{"p":74,"t":114,"True":32},{"p":74,"t":144,"True":-17},{"p":74,"t":25,"Pred":-52},{"p":74,"t":56,"Pred":45},{"p":74,"t":86,"Pred":-32.5},{"p":74,"t":115,"Pred":32},{"p":74,"t":145,"Pred":-17},{"p":74,"t":147,"True":-13,"Pred":-14.5},
    {"p":75,"t":0,"True":12.5,"Pred":12.5},{"p":75,"t":24,"True":-19.5},{"p":75,"t":55,"True":14.5},{"p":75,"t":85,"True":-12.5},{"p":75,"t":114,"True":9.5},{"p":75,"t":144,"True":-7},{"p":75,"t":25,"Pred":-20.5},{"p":75,"t":56,"Pred":14.5},{"p":75,"t":86,"Pred":-12.5},{"p":75,"t":115,"Pred":9.5},{"p":75,"t":145,"Pred":-7},{"p":75,"t":147,"True":-6,"Pred":-6.5},
    {"p":76,"t":0,"True":-39,"Pred":-39},{"p":76,"t":8,"True":-92},{"p":76,"t":33,"True":115},{"p":76,"t":58,"True":-109},{"p":76,"t":83,"True":132},{"p":76,"t":108,"True":-119},{"p":76,"t":134,"True":139},{"p":76,"t":9,"Pred":-96},{"p":76,"t":34,"Pred":114},{"p":76,"t":59,"Pred":-110},{"p":76,"t":84,"Pred":131},{"p":76,"t":109,"Pred":-120},{"p":76,"t":135,"Pred":138},{"p":76,"t":147,"True":-18,"Pred":-3},
    {"p":77,"t":0,"True":-13.5,"Pred":-13.5},{"p":77,"t":10,"True":-39},{"p":77,"t":36,"True":45},{"p":77,"t":60,"True":-45},{"p":77,"t":85,"True":50.5},{"p":77,"t":110,"True":-48.5},{"p":77,"t":136,"True":54},{"p":77,"t":11,"Pred":-40},{"p":77,"t":37,"Pred":45},{"p":77,"t":61,"Pred":-45.5},{"p":77,"t":86,"Pred":50.5},{"p":77,"t":111,"Pred":-49},{"p":77,"t":137,"Pred":54},{"p":77,"t":147,"True":0,"Pred":6},
    {"p":78,"t":0,"True":37.5,"Pred":37.5},{"p":78,"t":22,"True":-46},{"p":78,"t":46,"True":57},{"p":78,"t":72,"True":-55},{"p":78,"t":97,"True":65},{"p":78,"t":122,"True":-60},{"p":78,"t":23,"Pred":-47},{"p":78,"t":47,"Pred":57},{"p":78,"t":73,"Pred":-55},{"p":78,"t":98,"Pred":65},{"p":78,"t":123,"Pred":-60.5},{"p":78,"t":147,"True":68,"Pred":67},
    {"p":79,"t":0,"True":13,"Pred":13},{"p":79,"t":23,"True":-16.5},{"p":79,"t":48,"True":19},{"p":79,"t":73,"True":-18.5},{"p":79,"t":98,"True":22.5},{"p":79,"t":123,"True":-20.5},{"p":79,"t":24,"Pred":-16.5},{"p":79,"t":49,"Pred":19},{"p":79,"t":74,"Pred":-18.5},{"p":79,"t":99,"Pred":22.5},{"p":79,"t":124,"Pred":-20.5},{"p":79,"t":147,"True":23.5,"Pred":23.5}
  ]},
  "transform": [
    {"fold": ["True", "Pred"], "as": ["s", "v"]},
    {"filter": "isValid(datum.v)"}
  ],
  "columns": 4,
  "spacing": {"row": 14, "column": 15},
  "resolve": {"legend": {"color": "independent"}},
  "concat": [
    {"title":"Dimension 0","transform":[{"filter":"datum.p==0"}],"mark":"line","encoding":{"x":{"field":"t","type":"quantitative","title":"Time","scale":{"domain":[-7.35,154.35]},"axis":{"values":[0,25,50,75,100,125,150]}},"y":{"field":"v","type":"quantitative","title":"Value","scale":{"domain":[-139.3,147.6]}},"color":{"field":"s","type":"nominal","sort":"descending","title":null}}},
    {"title":"Dimension 1","transform":[{"filter":"datum.p==1"}],"mark":"line","encoding":{"x":{"field":"t","type":"quantitative","title":"Time","scale":{"domain":[-7.35,154.35]},"axis":{"values":[0,25,50,75,100,125,150]}},"y":{"field":"v","type":"quantitative","title":"Value","scale":{"domain":[-139.3,147.6]}},"color":{"field":"s","type":"nominal","sort":"descending","title":null}}},
    {"title":"Dimension 2","transform":[{"filter":"datum.p==2"}],"mark":"line","encoding":{"x":{"field":"t","type":"quantitative","title":"Time","scale":{"domain":[-7.35,154.35]},"axis":{"values":[0,25,50,75,100,125,150]}},"y":{"field":"v","type":"quantitative","title":"Value","scale":{"domain":[-139.3,147.6]}},"color":{"field":"s","type":"nominal","sort":"descending","title":null}}},
    {"title":"Dimension 3","transform":[{"filter":"datum.p==3"}],"mark":"line","encoding":{"x":{"field":"t","type":"quantitative","title":"Time","scale":{"domain":[-7.35,154.35]},"axis":{"values":[0,25,50,75,100,125,150]}},"y":{"field":"v","type":"quantitative","title":"Value","scale":{"domain":[-139.3,147.6]}},"color":{"field":"s","type":"nominal","sort":"descending","title":null}}},
    {"title":"Dimension 0","transform":[{"filter":"datum.p==4"}],"mark":"line","encoding":{"x":{"field":"t","type":"quantitative","title":"Time","scale":{"domain":[-7.35,154.35]},"axis":{"values":[0,25,50,75,100,125,150]}},"y":{"field":"v","type":"quantitative","title":"Value","scale":{"domain":[-139.3,147.6]}},"color":{"field":"s","type":"nominal","sort":"descending","title":null}}},
    {"title":"Dimension 1","transform":[{"filter":"datum.p==5"}],"mark":"line","encoding":{"x":{"field":"t","type":"quantitative","title":"Time","scale":{"domain":[-7.35,154.35]},"axis":{"values":[0,25,50,75,100,125,150]}},"y":{"field":"v","type":"quantitative","title":"Value","scale":{"domain":[-139.3,147.6]}},"color":{"field":"s","type":"nominal","sort":"descending","title":null}}},
    {"title":"Dimension 2","transform":[{"filter":"datum.p==6"}],"mark":"line","encoding":{"x":{"field":"t","type":"quantitative","title":"Time","scale":{"domain":[-7.35,154.35]},"axis":{"values":[0,25,50,75,100,125,150]}},"y":{"field":"v","type":"quantitative","title":"Value","scale":{"domain":[-139.3,147.6]}},"color":{"field":"s","type":"nominal","sort":"descending","title":null}}},
    {"title":"Dimension 3","transform":[{"filter":"datum.p==7"}],"mark":"line","encoding":{"x":{"field":"t","type":"quantitative","title":"Time","scale":{"domain":[-7.35,154.35]},"axis":{"values":[0,25,50,75,100,125,150]}},"y":{"field":"v","type":"quantitative","title":"Value","scale":{"domain":[-139.3,147.6]}},"color":{"field":"s","type":"nominal","sort":"descending","title":null}}},
    {"title":"Dimension 0","transform":[{"filter":"datum.p==8"}],"mark":"line","encoding":{"x":{"field":"t","type":"quantitative","title":"Time","scale":{"domain":[-7.35,154.35]},"axis":{"values":[0,25,50,75,100,125,150]}},"y":{"field":"v","type":"quantitative","title":"Value","scale":{"domain":[-139.3,147.6]}},"color":{"field":"s","type":"nominal","sort":"descending","title":null}}},
    {"title":"Dimension 1","transform":[{"filter":"datum.p==9"}],"mark":"line","encoding":{"x":{"field":"t","type":"quantitative","title":"Time","scale":{"domain":[-7.35,154.35]},"axis":{"values":[0,25,50,75,100,125,150]}},"y":{"field":"v","type":"quantitative","title":"Value","scale":{"domain":[-139.3,147.6]}},"color":{"field":"s","type":"nominal","sort":"descending","title":null}}},
    {"title":"Dimension 2","transform":[{"filter":"datum.p==10"}],"mark":"line","encoding":{"x":{"field":"t","type":"quantitative","title":"Time","scale":{"domain":[-7.35,154.35]},"axis":{"values":[0,25,50,75,100,125,150]}},"y":{"field":"v","type":"quantitative","title":"Value","scale":{"domain":[-139.3,147.6]}},"color":{"field":"s","type":"nominal","sort":"descending","title":null}}},
    {"title":"Dimension 3","transform":[{"filter":"datum.p==11"}],"mark":"line","encoding":{"x":{"field":"t","type":"quantitative","title":"Time","scale":{"domain":[-7.35,154.35]},"axis":{"values":[0,25,50,75,100,125,150]}},"y":{"field":"v","type":"quantitative","title":"Value","scale":{"domain":[-139.3,147.6]}},"color":{"field":"s","type":"nominal","sort":"descending","title":null}}},
    {"title":"Dimension 0","transform":[{"filter":"datum.p==12"}],"mark":"line","encoding":{"x":{"field":"t","type":"quantitative","title":"Time","scale":{"domain":[-7.35,154.35]},"axis":{"values":[0,25,50,75,100,125,150]}},"y":{"field":"v","type":"quantitative","title":"Value","scale":{"domain":[-139.3,147.6]}},"color":{"field":"s","type":"nominal","sort":"descending","title":null}}},
    {"title":"Dimension 1","transform":[{"filter":"datum.p==13"}],"mark":"line","encoding":{"x":{"field":"t","type":"quantitative","title":"Time","scale":{"domain":[-7.35,154.35]},"axis":{"values":[0,25,50,75,100,125,150]}},"y":{"field":"v","type":"quantitative","title":"Value","scale":{"domain":[-139.3,147.6]}},"color":{"field":"s","type":"nominal","sort":"descending","title":null}}},
    {"title":"Dimension 2","transform":[{"filter":"datum.p==14"}],"mark":"line","encoding":{"x":{"field":"t","type":"quantitative","title":"Time","scale":{"domain":[-7.35,154.35]},"axis":{"values":[0,25,50,75,100,125,150]}},"y":{"field":"v","type":"quantitative","title":"Value","scale":{"domain":[-139.3,147.6]}},"color":{"field":"s","type":"nominal","sort":"descending","title":null}}},
    {"title":"Dimension 3","transform":[{"filter":"datum.p==15"}],"mark":"line","encoding":{"x":{"field":"t","type":"quantitative","title":"Time","scale":{"domain":[-7.35,154.35]},"axis":{"values":[0,25,50,75,100,125,150]}},"y":{"field":"v","type":"quantitative","title":"Value","scale":{"domain":[-139.3,147.6]}},"color":{"field":"s","type":"nominal","sort":"descending","title":null}}},
    {"title":"Dimension 0","transform":[{"filter":"datum.p==16"}],"mark":"line","encoding":{"x":{"field":"t","type":"quantitative","title":"Time","scale":{"domain":[-7.35,154.35]},"axis":{"values":[0,25,50,75,100,125,150]}},"y":{"field":"v","type":"quantitative","title":"Value","scale":{"domain":[-139.3,147.6]}},"color":{"field":"s","type":"nominal","sort":"descending","title":null}}},
    {"title":"Dimension 1","transform":[{"filter":"datum.p==17"}],"mark":"line","encoding":{"x":{"field":"t","type":"quantitative","title":"Time","scale":{"domain":[-7.35,154.35]},"axis":{"values":[0,25,50,75,100,125,150]}},"y":{"field":"v","type":"quantitative","title":"Value","scale":{"domain":[-139.3,147.6]}},"color":{"field":"s","type":"nominal","sort":"descending","title":null}}},
    {"title":"Dimension 2","transform":[{"filter":"datum.p==18"}],"mark":"line","encoding":{"x":{"field":"t","type":"quantitative","title":"Time","scale":{"domain":[-7.35,154.35]},"axis":{"values":[0,25,50,75,100,125,150]}},"y":{"field":"v","type":"quantitative","title":"Value","scale":{"domain":[-139.3,147.6]}},"color":{"field":"s","type":"nominal","sort":"descending","title":null}}},
    {"title":"Dimension 3","transform":[{"filter":"datum.p==19"}],"mark":"line","encoding":{"x":{"field":"t","type":"quantitative","title":"Time","scale":{"domain":[-7.35,154.35]},"axis":{"values":[0,25,50,75,100,125,150]}},"y":{"field":"v","type":"quantitative","title":"Value","scale":{"domain":[-139.3,147.6]}},"color":{"field":"s","type":"nominal","sort":"descending","title":null}}},
    {"title":"Dimension 0","transform":[{"filter":"datum.p==20"}],"mark":"line","encoding":{"x":{"field":"t","type":"quantitative","title":"Time","scale":{"domain":[-7.35,154.35]},"axis":{"values":[0,25,50,75,100,125,150]}},"y":{"field":"v","type":"quantitative","title":"Value","scale":{"domain":[-139.3,147.6]}},"color":{"field":"s","type":"nominal","sort":"descending","title":null}}},
    {"title":"Dimension 1","transform":[{"filter":"datum.p==21"}],"mark":"line","encoding":{"x":{"field":"t","type":"quantitative","title":"Time","scale":{"domain":[-7.35,154.35]},"axis":{"values":[0,25,50,75,100,125,150]}},"y":{"field":"v","type":"quantitative","title":"Value","scale":{"domain":[-139.3,147.6]}},"color":{"field":"s","type":"nominal","sort":"descending","title":null}}},
    {"title":"Dimension 2","transform":[{"filter":"datum.p==22"}],"mark":"line","encoding":{"x":{"field":"t","type":"quantitative","title":"Time","scale":{"domain":[-7.35,154.35]},"axis":{"values":[0,25,50,75,100,125,150]}},"y":{"field":"v","type":"quantitative","title":"Value","scale":{"domain":[-139.3,147.6]}},"color":{"field":"s","type":"nominal","sort":"descending","title":null}}},
    {"title":"Dimension 3","transform":[{"filter":"datum.p==23"}],"mark":"line","encoding":{"x":{"field":"t","type":"quantitative","title":"Time","scale":{"domain":[-7.35,154.35]},"axis":{"values":[0,25,50,75,100,125,150]}},"y":{"field":"v","type":"quantitative","title":"Value","scale":{"domain":[-139.3,147.6]}},"color":{"field":"s","type":"nominal","sort":"descending","title":null}}},
    {"title":"Dimension 0","transform":[{"filter":"datum.p==24"}],"mark":"line","encoding":{"x":{"field":"t","type":"quantitative","title":"Time","scale":{"domain":[-7.35,154.35]},"axis":{"values":[0,25,50,75,100,125,150]}},"y":{"field":"v","type":"quantitative","title":"Value","scale":{"domain":[-139.3,147.6]}},"color":{"field":"s","type":"nominal","sort":"descending","title":null}}},
    {"title":"Dimension 1","transform":[{"filter":"datum.p==25"}],"mark":"line","encoding":{"x":{"field":"t","type":"quantitative","title":"Time","scale":{"domain":[-7.35,154.35]},"axis":{"values":[0,25,50,75,100,125,150]}},"y":{"field":"v","type":"quantitative","title":"Value","scale":{"domain":[-139.3,147.6]}},"color":{"field":"s","type":"nominal","sort":"descending","title":null}}},
    {"title":"Dimension 2","transform":[{"filter":"datum.p==26"}],"mark":"line","encoding":{"x":{"field":"t","type":"quantitative","title":"Time","scale":{"domain":[-7.35,154.35]},"axis":{"values":[0,25,50,75,100,125,150]}},"y":{"field":"v","type":"quantitative","title":"Value","scale":{"domain":[-139.3,147.6]}},"color":{"field":"s","type":"nominal","sort":"descending","title":null}}},
    {"title":"Dimension 3","transform":[{"filter":"datum.p==27"}],"mark":"line","encoding":{"x":{"field":"t","type":"quantitative","title":"Time","scale":{"domain":[-7.35,154.35]},"axis":{"values":[0,25,50,75,100,125,150]}},"y":{"field":"v","type":"quantitative","title":"Value","scale":{"domain":[-139.3,147.6]}},"color":{"field":"s","type":"nominal","sort":"descending","title":null}}},
    {"title":"Dimension 0","transform":[{"filter":"datum.p==28"}],"mark":"line","encoding":{"x":{"field":"t","type":"quantitative","title":"Time","scale":{"domain":[-7.35,154.35]},"axis":{"values":[0,25,50,75,100,125,150]}},"y":{"field":"v","type":"quantitative","title":"Value","scale":{"domain":[-139.3,147.6]}},"color":{"field":"s","type":"nominal","sort":"descending","title":null,"legend":{"orient":"bottom-right"}}}},
    {"title":"Dimension 1","transform":[{"filter":"datum.p==29"}],"mark":"line","encoding":{"x":{"field":"t","type":"quantitative","title":"Time","scale":{"domain":[-7.35,154.35]},"axis":{"values":[0,25,50,75,100,125,150]}},"y":{"field":"v","type":"quantitative","title":"Value","scale":{"domain":[-139.3,147.6]}},"color":{"field":"s","type":"nominal","sort":"descending","title":null}}},
    {"title":"Dimension 2","transform":[{"filter":"datum.p==30"}],"mark":"line","encoding":{"x":{"field":"t","type":"quantitative","title":"Time","scale":{"domain":[-7.35,154.35]},"axis":{"values":[0,25,50,75,100,125,150]}},"y":{"field":"v","type":"quantitative","title":"Value","scale":{"domain":[-139.3,147.6]}},"color":{"field":"s","type":"nominal","sort":"descending","title":null}}},
    {"title":"Dimension 3","transform":[{"filter":"datum.p==31"}],"mark":"line","encoding":{"x":{"field":"t","type":"quantitative","title":"Time","scale":{"domain":[-7.35,154.35]},"axis":{"values":[0,25,50,75,100,125,150]}},"y":{"field":"v","type":"quantitative","title":"Value","scale":{"domain":[-139.3,147.6]}},"color":{"field":"s","type":"nominal","sort":"descending","title":null}}},
    {"title":"Dimension 0","transform":[{"filter":"datum.p==32"}],"mark":"line","encoding":{"x":{"field":"t","type":"quantitative","title":"Time","scale":{"domain":[-7.35,154.35]},"axis":{"values":[0,25,50,75,100,125,150]}},"y":{"field":"v","type":"quantitative","title":"Value","scale":{"domain":[-139.3,147.6]}},"color":{"field":"s","type":"nominal","sort":"descending","title":null,"legend":{"orient":"top-left"}}}},
    {"title":"Dimension 1","transform":[{"filter":"datum.p==33"}],"mark":"line","encoding":{"x":{"field":"t","type":"quantitative","title":"Time","scale":{"domain":[-7.35,154.35]},"axis":{"values":[0,25,50,75,100,125,150]}},"y":{"field":"v","type":"quantitative","title":"Value","scale":{"domain":[-139.3,147.6]}},"color":{"field":"s","type":"nominal","sort":"descending","title":null}}},
    {"title":"Dimension 2","transform":[{"filter":"datum.p==34"}],"mark":"line","encoding":{"x":{"field":"t","type":"quantitative","title":"Time","scale":{"domain":[-7.35,154.35]},"axis":{"values":[0,25,50,75,100,125,150]}},"y":{"field":"v","type":"quantitative","title":"Value","scale":{"domain":[-139.3,147.6]}},"color":{"field":"s","type":"nominal","sort":"descending","title":null}}},
    {"title":"Dimension 3","transform":[{"filter":"datum.p==35"}],"mark":"line","encoding":{"x":{"field":"t","type":"quantitative","title":"Time","scale":{"domain":[-7.35,154.35]},"axis":{"values":[0,25,50,75,100,125,150]}},"y":{"field":"v","type":"quantitative","title":"Value","scale":{"domain":[-139.3,147.6]}},"color":{"field":"s","type":"nominal","sort":"descending","title":null}}},
    {"title":"Dimension 0","transform":[{"filter":"datum.p==36"}],"mark":"line","encoding":{"x":{"field":"t","type":"quantitative","title":"Time","scale":{"domain":[-7.35,154.35]},"axis":{"values":[0,25,50,75,100,125,150]}},"y":{"field":"v","type":"quantitative","title":"Value","scale":{"domain":[-139.3,147.6]}},"color":{"field":"s","type":"nominal","sort":"descending","title":null}}},
    {"title":"Dimension 1","transform":[{"filter":"datum.p==37"}],"mark":"line","encoding":{"x":{"field":"t","type":"quantitative","title":"Time","scale":{"domain":[-7.35,154.35]},"axis":{"values":[0,25,50,75,100,125,150]}},"y":{"field":"v","type":"quantitative","title":"Value","scale":{"domain":[-139.3,147.6]}},"color":{"field":"s","type":"nominal","sort":"descending","title":null}}},
    {"title":"Dimension 2","transform":[{"filter":"datum.p==38"}],"mark":"line","encoding":{"x":{"field":"t","type":"quantitative","title":"Time","scale":{"domain":[-7.35,154.35]},"axis":{"values":[0,25,50,75,100,125,150]}},"y":{"field":"v","type":"quantitative","title":"Value","scale":{"domain":[-139.3,147.6]}},"color":{"field":"s","type":"nominal","sort":"descending","title":null}}},
    {"title":"Dimension 3","transform":[{"filter":"datum.p==39"}],"mark":"line","encoding":{"x":{"field":"t","type":"quantitative","title":"Time","scale":{"domain":[-7.35,154.35]},"axis":{"values":[0,25,50,75,100,125,150]}},"y":{"field":"v","type":"quantitative","title":"Value","scale":{"domain":[-139.3,147.6]}},"color":{"field":"s","type":"nominal","sort":"descending","title":null}}},
    {"title":"Dimension 0","transform":[{"filter":"datum.p==40"}],"mark":"line","encoding":{"x":{"field":"t","type":"quantitative","title":"Time","scale":{"domain":[-7.35,154.35]},"axis":{"values":[0,25,50,75,100,125,150]}},"y":{"field":"v","type":"quantitative","title":"Value","scale":{"domain":[-139.3,147.6]}},"color":{"field":"s","type":"nominal","sort":"descending","title":null}}},
    {"title":"Dimension 1","transform":[{"filter":"datum.p==41"}],"mark":"line","encoding":{"x":{"field":"t","type":"quantitative","title":"Time","scale":{"domain":[-7.35,154.35]},"axis":{"values":[0,25,50,75,100,125,150]}},"y":{"field":"v","type":"quantitative","title":"Value","scale":{"domain":[-139.3,147.6]}},"color":{"field":"s","type":"nominal","sort":"descending","title":null}}},
    {"title":"Dimension 2","transform":[{"filter":"datum.p==42"}],"mark":"line","encoding":{"x":{"field":"t","type":"quantitative","title":"Time","scale":{"domain":[-7.35,154.35]},"axis":{"values":[0,25,50,75,100,125,150]}},"y":{"field":"v","type":"quantitative","title":"Value","scale":{"domain":[-139.3,147.6]}},"color":{"field":"s","type":"nominal","sort":"descending","title":null}}},
    {"title":"Dimension 3","transform":[{"filter":"datum.p==43"}],"mark":"line","encoding":{"x":{"field":"t","type":"quantitative","title":"Time","scale":{"domain":[-7.35,154.35]},"axis":{"values":[0,25,50,75,100,125,150]}},"y":{"field":"v","type":"quantitative","title":"Value","scale":{"domain":[-139.3,147.6]}},"color":{"field":"s","type":"nominal","sort":"descending","title":null}}},
    {"title":"Dimension 0","transform":[{"filter":"datum.p==44"}],"mark":"line","encoding":{"x":{"field":"t","type":"quantitative","title":"Time","scale":{"domain":[-7.35,154.35]},"axis":{"values":[0,25,50,75,100,125,150]}},"y":{"field":"v","type":"quantitative","title":"Value","scale":{"domain":[-139.3,147.6]}},"color":{"field":"s","type":"nominal","sort":"descending","title":null,"legend":{"orient":"none","legendX":7,"legendY":138}}}},
    {"title":"Dimension 1","transform":[{"filter":"datum.p==45"}],"mark":"line","encoding":{"x":{"field":"t","type":"quantitative","title":"Time","scale":{"domain":[-7.35,154.35]},"axis":{"values":[0,25,50,75,100,125,150]}},"y":{"field":"v","type":"quantitative","title":"Value","scale":{"domain":[-139.3,147.6]}},"color":{"field":"s","type":"nominal","sort":"descending","title":null}}},
    {"title":"Dimension 2","transform":[{"filter":"datum.p==46"}],"mark":"line","encoding":{"x":{"field":"t","type":"quantitative","title":"Time","scale":{"domain":[-7.35,154.35]},"axis":{"values":[0,25,50,75,100,125,150]}},"y":{"field":"v","type":"quantitative","title":"Value","scale":{"domain":[-139.3,147.6]}},"color":{"field":"s","type":"nominal","sort":"descending","title":null}}},
    {"title":"Dimension 3","transform":[{"filter":"datum.p==47"}],"mark":"line","encoding":{"x":{"field":"t","type":"quantitative","title":"Time","scale":{"domain":[-7.35,154.35]},"axis":{"values":[0,25,50,75,100,125,150]}},"y":{"field":"v","type":"quantitative","title":"Value","scale":{"domain":[-139.3,147.6]}},"color":{"field":"s","type":"nominal","sort":"descending","title":null}}},
    {"title":"Dimension 0","transform":[{"filter":"datum.p==48"}],"mark":"line","encoding":{"x":{"field":"t","type":"quantitative","title":"Time","scale":{"domain":[-7.35,154.35]},"axis":{"values":[0,25,50,75,100,125,150]}},"y":{"field":"v","type":"quantitative","title":"Value","scale":{"domain":[-139.3,147.6]}},"color":{"field":"s","type":"nominal","sort":"descending","title":null,"legend":{"orient":"none","legendX":221,"legendY":138}}}},
    {"title":"Dimension 1","transform":[{"filter":"datum.p==49"}],"mark":"line","encoding":{"x":{"field":"t","type":"quantitative","title":"Time","scale":{"domain":[-7.35,154.35]},"axis":{"values":[0,25,50,75,100,125,150]}},"y":{"field":"v","type":"quantitative","title":"Value","scale":{"domain":[-139.3,147.6]}},"color":{"field":"s","type":"nominal","sort":"descending","title":null}}},
    {"title":"Dimension 2","transform":[{"filter":"datum.p==50"}],"mark":"line","encoding":{"x":{"field":"t","type":"quantitative","title":"Time","scale":{"domain":[-7.35,154.35]},"axis":{"values":[0,25,50,75,100,125,150]}},"y":{"field":"v","type":"quantitative","title":"Value","scale":{"domain":[-139.3,147.6]}},"color":{"field":"s","type":"nominal","sort":"descending","title":null}}},
    {"title":"Dimension 3","transform":[{"filter":"datum.p==51"}],"mark":"line","encoding":{"x":{"field":"t","type":"quantitative","title":"Time","scale":{"domain":[-7.35,154.35]},"axis":{"values":[0,25,50,75,100,125,150]}},"y":{"field":"v","type":"quantitative","title":"Value","scale":{"domain":[-139.3,147.6]}},"color":{"field":"s","type":"nominal","sort":"descending","title":null}}},
    {"title":"Dimension 0","transform":[{"filter":"datum.p==52"}],"mark":"line","encoding":{"x":{"field":"t","type":"quantitative","title":"Time","scale":{"domain":[-7.35,154.35]},"axis":{"values":[0,25,50,75,100,125,150]}},"y":{"field":"v","type":"quantitative","title":"Value","scale":{"domain":[-139.3,147.6]}},"color":{"field":"s","type":"nominal","sort":"descending","title":null}}},
    {"title":"Dimension 1","transform":[{"filter":"datum.p==53"}],"mark":"line","encoding":{"x":{"field":"t","type":"quantitative","title":"Time","scale":{"domain":[-7.35,154.35]},"axis":{"values":[0,25,50,75,100,125,150]}},"y":{"field":"v","type":"quantitative","title":"Value","scale":{"domain":[-139.3,147.6]}},"color":{"field":"s","type":"nominal","sort":"descending","title":null}}},
    {"title":"Dimension 2","transform":[{"filter":"datum.p==54"}],"mark":"line","encoding":{"x":{"field":"t","type":"quantitative","title":"Time","scale":{"domain":[-7.35,154.35]},"axis":{"values":[0,25,50,75,100,125,150]}},"y":{"field":"v","type":"quantitative","title":"Value","scale":{"domain":[-139.3,147.6]}},"color":{"field":"s","type":"nominal","sort":"descending","title":null}}},
    {"title":"Dimension 3","transform":[{"filter":"datum.p==55"}],"mark":"line","encoding":{"x":{"field":"t","type":"quantitative","title":"Time","scale":{"domain":[-7.35,154.35]},"axis":{"values":[0,25,50,75,100,125,150]}},"y":{"field":"v","type":"quantitative","title":"Value","scale":{"domain":[-139.3,147.6]}},"color":{"field":"s","type":"nominal","sort":"descending","title":null}}},
    {"title":"Dimension 0","transform":[{"filter":"datum.p==56"}],"mark":"line","encoding":{"x":{"field":"t","type":"quantitative","title":"Time","scale":{"domain":[-7.35,154.35]},"axis":{"values":[0,25,50,75,100,125,150]}},"y":{"field":"v","type":"quantitative","title":"Value","scale":{"domain":[-139.3,147.6]}},"color":{"field":"s","type":"nominal","sort":"descending","title":null}}},
    {"title":"Dimension 1","transform":[{"filter":"datum.p==57"}],"mark":"line","encoding":{"x":{"field":"t","type":"quantitative","title":"Time","scale":{"domain":[-7.35,154.35]},"axis":{"values":[0,25,50,75,100,125,150]}},"y":{"field":"v","type":"quantitative","title":"Value","scale":{"domain":[-139.3,147.6]}},"color":{"field":"s","type":"nominal","sort":"descending","title":null}}},
    {"title":"Dimension 2","transform":[{"filter":"datum.p==58"}],"mark":"line","encoding":{"x":{"field":"t","type":"quantitative","title":"Time","scale":{"domain":[-7.35,154.35]},"axis":{"values":[0,25,50,75,100,125,150]}},"y":{"field":"v","type":"quantitative","title":"Value","scale":{"domain":[-139.3,147.6]}},"color":{"field":"s","type":"nominal","sort":"descending","title":null}}},
    {"title":"Dimension 3","transform":[{"filter":"datum.p==59"}],"mark":"line","encoding":{"x":{"field":"t","type":"quantitative","title":"Time","scale":{"domain":[-7.35,154.35]},"axis":{"values":[0,25,50,75,100,125,150]}},"y":{"field":"v","type":"quantitative","title":"Value","scale":{"domain":[-139.3,147.6]}},"color":{"field":"s","type":"nominal","sort":"descending","title":null}}},
    {"title":"Dimension 0","transform":[{"filter":"datum.p==60"}],"mark":"line","encoding":{"x":{"field":"t","type":"quantitative","title":"Time","scale":{"domain":[-7.35,154.35]},"axis":{"values":[0,25,50,75,100,125,150]}},"y":{"field":"v","type":"quantitative","title":"Value","scale":{"domain":[-139.3,147.6]}},"color":{"field":"s","type":"nominal","sort":"descending","title":null}}},
    {"title":"Dimension 1","transform":[{"filter":"datum.p==61"}],"mark":"line","encoding":{"x":{"field":"t","type":"quantitative","title":"Time","scale":{"domain":[-7.35,154.35]},"axis":{"values":[0,25,50,75,100,125,150]}},"y":{"field":"v","type":"quantitative","title":"Value","scale":{"domain":[-139.3,147.6]}},"color":{"field":"s","type":"nominal","sort":"descending","title":null,"legend":{"orient":"bottom-right"}}}},
    {"title":"Dimension 2","transform":[{"filter":"datum.p==62"}],"mark":"line","encoding":{"x":{"field":"t","type":"quantitative","title":"Time","scale":{"domain":[-7.35,154.35]},"axis":{"values":[0,25,50,75,100,125,150]}},"y":{"field":"v","type":"quantitative","title":"Value","scale":{"domain":[-139.3,147.6]}},"color":{"field":"s","type":"nominal","sort":"descending","title":null}}},
    {"title":"Dimension 3","transform":[{"filter":"datum.p==63"}],"mark":"line","encoding":{"x":{"field":"t","type":"quantitative","title":"Time","scale":{"domain":[-7.35,154.35]},"axis":{"values":[0,25,50,75,100,125,150]}},"y":{"field":"v","type":"quantitative","title":"Value","scale":{"domain":[-139.3,147.6]}},"color":{"field":"s","type":"nominal","sort":"descending","title":null}}},
    {"title":"Dimension 0","transform":[{"filter":"datum.p==64"}],"mark":"line","encoding":{"x":{"field":"t","type":"quantitative","title":"Time","scale":{"domain":[-7.35,154.35]},"axis":{"values":[0,25,50,75,100,125,150]}},"y":{"field":"v","type":"quantitative","title":"Value","scale":{"domain":[-139.3,147.6]}},"color":{"field":"s","type":"nominal","sort":"descending","title":null}}},
    {"title":"Dimension 1","transform":[{"filter":"datum.p==65"}],"mark":"line","encoding":{"x":{"field":"t","type":"quantitative","title":"Time","scale":{"domain":[-7.35,154.35]},"axis":{"values":[0,25,50,75,100,125,150]}},"y":{"field":"v","type":"quantitative","title":"Value","scale":{"domain":[-139.3,147.6]}},"color":{"field":"s","type":"nominal","sort":"descending","title":null}}},
    {"title":"Dimension 2","transform":[{"filter":"datum.p==66"}],"mark":"line","encoding":{"x":{"field":"t","type":"quantitative","title":"Time","scale":{"domain":[-7.35,154.35]},"axis":{"values":[0,25,50,75,100,125,150]}},"y":{"field":"v","type":"quantitative","title":"Value","scale":{"domain":[-139.3,147.6]}},"color":{"field":"s","type":"nominal","sort":"descending","title":null}}},
    {"title":"Dimension 3","transform":[{"filter":"datum.p==67"}],"mark":"line","encoding":{"x":{"field":"t","type":"quantitative","title":"Time","scale":{"domain":[-7.35,154.35]},"axis":{"values":[0,25,50,75,100,125,150]}},"y":{"field":"v","type":"quantitative","title":"Value","scale":{"domain":[-139.3,147.6]}},"color":{"field":"s","type":"nominal","sort":"descending","title":null}}},
    {"title":"Dimension 0","transform":[{"filter":"datum.p==68"}],"mark":"line","encoding":{"x":{"field":"t","type":"quantitative","title":"Time","scale":{"domain":[-7.35,154.35]},"axis":{"values":[0,25,50,75,100,125,150]}},"y":{"field":"v","type":"quantitative","title":"Value","scale":{"domain":[-139.3,147.6]}},"color":{"field":"s","type":"nominal","sort":"descending","title":null}}},
    {"title":"Dimension 1","transform":[{"filter":"datum.p==69"}],"mark":"line","encoding":{"x":{"field":"t","type":"quantitative","title":"Time","scale":{"domain":[-7.35,154.35]},"axis":{"values":[0,25,50,75,100,125,150]}},"y":{"field":"v","type":"quantitative","title":"Value","scale":{"domain":[-139.3,147.6]}},"color":{"field":"s","type":"nominal","sort":"descending","title":null,"legend":{"orient":"top-left"}}}},
    {"title":"Dimension 2","transform":[{"filter":"datum.p==70"}],"mark":"line","encoding":{"x":{"field":"t","type":"quantitative","title":"Time","scale":{"domain":[-7.35,154.35]},"axis":{"values":[0,25,50,75,100,125,150]}},"y":{"field":"v","type":"quantitative","title":"Value","scale":{"domain":[-139.3,147.6]}},"color":{"field":"s","type":"nominal","sort":"descending","title":null}}},
    {"title":"Dimension 3","transform":[{"filter":"datum.p==71"}],"mark":"line","encoding":{"x":{"field":"t","type":"quantitative","title":"Time","scale":{"domain":[-7.35,154.35]},"axis":{"values":[0,25,50,75,100,125,150]}},"y":{"field":"v","type":"quantitative","title":"Value","scale":{"domain":[-139.3,147.6]}},"color":{"field":"s","type":"nominal","sort":"descending","title":null}}},
    {"title":"Dimension 0","transform":[{"filter":"datum.p==72"}],"mark":"line","encoding":{"x":{"field":"t","type":"quantitative","title":"Time","scale":{"domain":[-7.35,154.35]},"axis":{"values":[0,25,50,75,100,125,150]}},"y":{"field":"v","type":"quantitative","title":"Value","scale":{"domain":[-139.3,147.6]}},"color":{"field":"s","type":"nominal","sort":"descending","title":null}}},
    {"title":"Dimension 1","transform":[{"filter":"datum.p==73"}],"mark":"line","encoding":{"x":{"field":"t","type":"quantitative","title":"Time","scale":{"domain":[-7.35,154.35]},"axis":{"values":[0,25,50,75,100,125,150]}},"y":{"field":"v","type":"quantitative","title":"Value","scale":{"domain":[-139.3,147.6]}},"color":{"field":"s","type":"nominal","sort":"descending","title":null}}},
    {"title":"Dimension 2","transform":[{"filter":"datum.p==74"}],"mark":"line","encoding":{"x":{"field":"t","type":"quantitative","title":"Time","scale":{"domain":[-7.35,154.35]},"axis":{"values":[0,25,50,75,100,125,150]}},"y":{"field":"v","type":"quantitative","title":"Value","scale":{"domain":[-139.3,147.6]}},"color":{"field":"s","type":"nominal","sort":"descending","title":null}}},
    {"title":"Dimension 3","transform":[{"filter":"datum.p==75"}],"mark":"line","encoding":{"x":{"field":"t","type":"quantitative","title":"Time","scale":{"domain":[-7.35,154.35]},"axis":{"values":[0,25,50,75,100,125,150]}},"y":{"field":"v","type":"quantitative","title":"Value","scale":{"domain":[-139.3,147.6]}},"color":{"field":"s","type":"nominal","sort":"descending","title":null}}},
    {"title":"Dimension 0","transform":[{"filter":"datum.p==76"}],"mark":"line","encoding":{"x":{"field":"t","type":"quantitative","title":"Time","scale":{"domain":[-7.35,154.35]},"axis":{"values":[0,25,50,75,100,125,150]}},"y":{"field":"v","type":"quantitative","title":"Value","scale":{"domain":[-139.3,147.6]}},"color":{"field":"s","type":"nominal","sort":"descending","title":null,"legend":{"orient":"none","legendX":7,"legendY":138}}}},
    {"title":"Dimension 1","transform":[{"filter":"datum.p==77"}],"mark":"line","encoding":{"x":{"field":"t","type":"quantitative","title":"Time","scale":{"domain":[-7.35,154.35]},"axis":{"values":[0,25,50,75,100,125,150]}},"y":{"field":"v","type":"quantitative","title":"Value","scale":{"domain":[-139.3,147.6]}},"color":{"field":"s","type":"nominal","sort":"descending","title":null}}},
    {"title":"Dimension 2","transform":[{"filter":"datum.p==78"}],"mark":"line","encoding":{"x":{"field":"t","type":"quantitative","title":"Time","scale":{"domain":[-7.35,154.35]},"axis":{"values":[0,25,50,75,100,125,150]}},"y":{"field":"v","type":"quantitative","title":"Value","scale":{"domain":[-139.3,147.6]}},"color":{"field":"s","type":"nominal","sort":"descending","title":null}}},
    {"title":"Dimension 3","transform":[{"filter":"datum.p==79"}],"mark":"line","encoding":{"x":{"field":"t","type":"quantitative","title":"Time","scale":{"domain":[-7.35,154.35]},"axis":{"values":[0,25,50,75,100,125,150]}},"y":{"field":"v","type":"quantitative","title":"Value","scale":{"domain":[-139.3,147.6]}},"color":{"field":"s","type":"nominal","sort":"descending","title":null}}}
  ],
  "config": {
    "font": "DejaVu Sans",
    "view": {"continuousWidth": 309, "continuousHeight": 321, "stroke": "#000000", "strokeWidth": 1},
    "axis": {"grid": false, "domain": false, "tickColor": "#000000", "tickSize": 5, "tickWidth": 1, "labelColor": "#000000", "labelFontSize": 12.7, "titleFontSize": 13.3, "titleFontWeight": "normal", "titleColor": "#000000"},
    "axisX": {"labelPadding": 5, "titlePadding": 6},
    "axisY": {"tickCount": 5, "labelPadding": 6, "titlePadding": 9},
    "title": {"fontSize": 16.5, "fontWeight": "normal", "color": "#000000", "offset": 6, "anchor": "middle"},
    "line": {"interpolate": "monotone", "strokeWidth": 2},
    "range": {"category": ["#1f77b4", "#ff7f0e"]},
    "legend": {"orient": "top-right", "offset": 7, "padding": 4, "fillColor": "rgba(255,255,255,0.8)", "strokeColor": "#cccccc", "cornerRadius": 3, "labelFontSize": 12.7, "labelColor": "#000000", "symbolType": "stroke", "symbolSize": 784, "symbolStrokeWidth": 2, "labelOffset": 10, "rowPadding": 6}
  }
}
